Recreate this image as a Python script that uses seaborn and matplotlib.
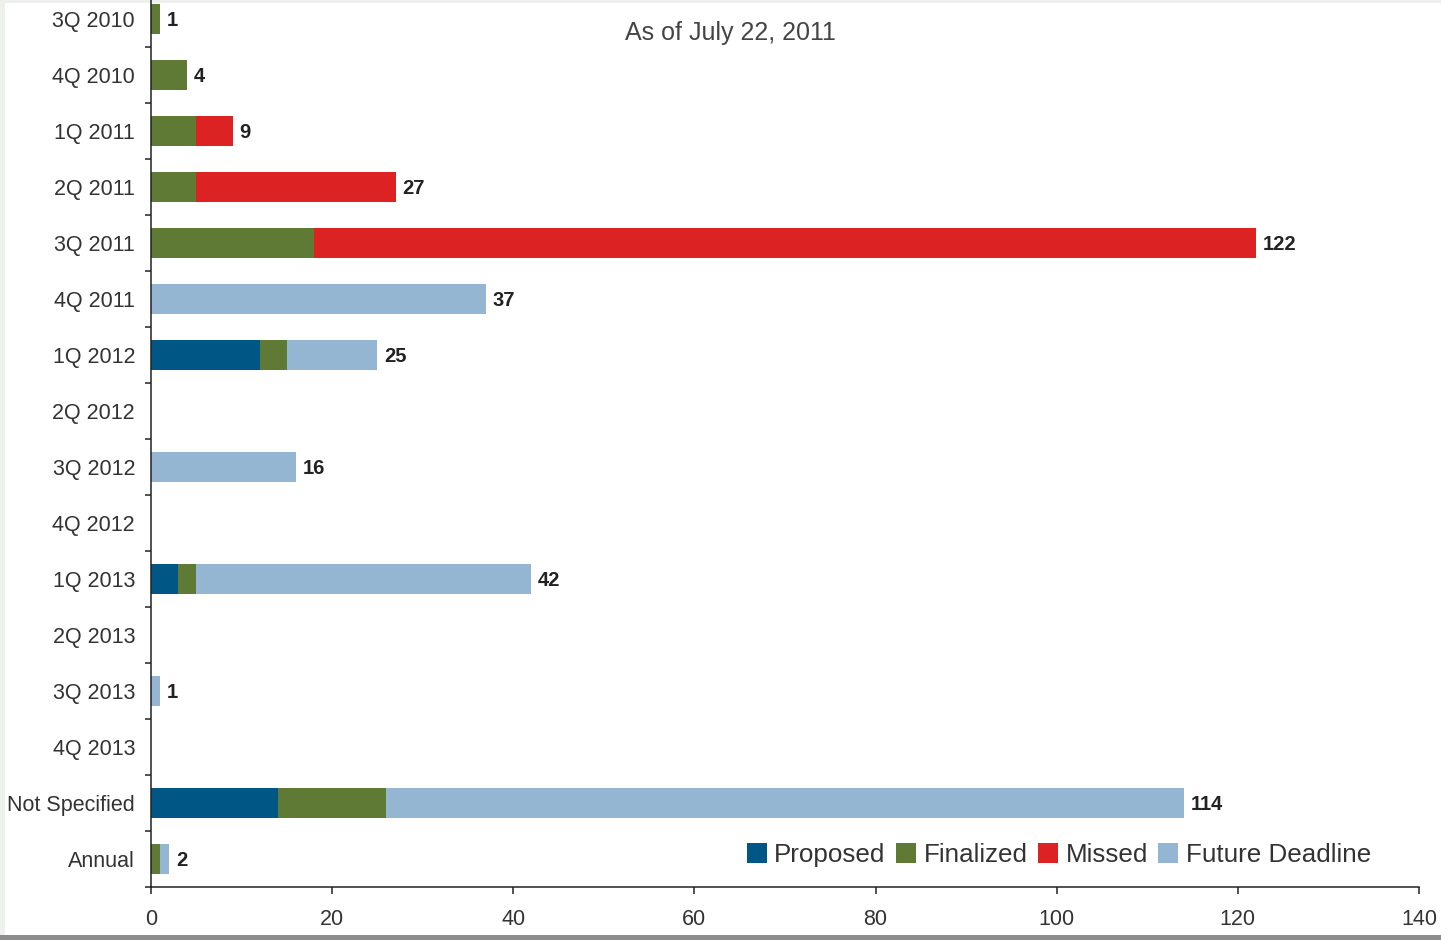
import matplotlib

matplotlib.use("Agg")
import matplotlib.pyplot as plt
import numpy as np
import pandas as pd
import seaborn as sns
from matplotlib.patches import Patch, Rectangle

quarters = [
    "3Q 2010", "4Q 2010", "1Q 2011", "2Q 2011", "3Q 2011", "4Q 2011",
    "1Q 2012", "2Q 2012", "3Q 2012", "4Q 2012", "1Q 2013", "2Q 2013",
    "3Q 2013", "4Q 2013", "Not Specified", "Annual",
]
proposed = [0, 0, 0, 0, 0, 0, 12, 0, 0, 0, 3, 0, 0, 0, 14, 0]
finalized = [1, 4, 5, 5, 18, 0, 3, 0, 0, 0, 2, 0, 0, 0, 12, 1]
missed = [0, 0, 4, 22, 104, 0, 0, 0, 0, 0, 0, 0, 0, 0, 0, 0]
future = [0, 0, 0, 0, 0, 37, 10, 0, 16, 0, 37, 0, 1, 0, 88, 1]

series_names = ["Proposed", "Finalized", "Missed", "Future Deadline"]
colors = ["#005684", "#5f7a34", "#dc2223", "#94b6d2"]
x_ticks = [0, 20, 40, 60, 80, 100, 120, 140]

df = pd.DataFrame({
    "quarter": quarters,
    "Proposed": proposed,
    "Finalized": finalized,
    "Missed": missed,
    "Future Deadline": future,
})
cum = df[series_names].cumsum(axis=1)
cum["quarter"] = quarters
totals = cum["Future Deadline"]

sns.set_style("white")
plt.rcParams["font.family"] = ["Liberation Sans", "DejaVu Sans"]

W, H = 1441, 940
fig = plt.figure(figsize=(W / 100, H / 100), dpi=100, facecolor="#eef0ee")

# page background with a soft shadow at the bottom
fig.patches.append(Rectangle((0, 0), 1, 5 / H, transform=fig.transFigure,
                             facecolor="#8c8c8c", edgecolor="none", zorder=-2))
fig.patches.append(Rectangle((5 / W, 5 / H), 1, 1 - 8 / H, transform=fig.transFigure,
                             facecolor="white", edgecolor="none", zorder=-1))

ax = fig.add_axes([151 / W, (H - 887) / H, 1268 / W, 887 / H])
ax.set_facecolor("none")

# stacked bars: draw cumulative ends from the widest down
for name, color in reversed(list(zip(series_names, colors))):
    sns.barplot(data=cum, x=name, y="quarter", order=quarters,
                color=color, width=0.53, orient="h", ax=ax, saturation=1,
                linewidth=0, errorbar=None)

for i, total in enumerate(totals):
    if total > 0:
        ax.text(total + 0.75, i + 0.03, f"{total}", va="center", ha="left",
                fontsize=14.5, fontweight="bold", color="#222222")

ax.set_xlabel("")
ax.set_ylabel("")

for side in ["top", "right"]:
    ax.spines[side].set_visible(False)
for side in ["left", "bottom"]:
    ax.spines[side].set_color("#222222")
    ax.spines[side].set_linewidth(1.1)

ax.set_xticks(x_ticks)
ax.set_yticks(np.arange(len(quarters)))
ax.set_yticklabels(quarters)
ax.set_yticks(np.arange(len(quarters) + 1) - 0.5, minor=True)
ax.tick_params(axis="y", which="major", left=True, length=0, pad=11.5,
               labelsize=15.5, labelcolor="#333333")
ax.tick_params(axis="y", which="minor", left=True, length=4.5, width=1.1,
               color="#222222", direction="out")
ax.tick_params(axis="x", which="major", bottom=True, length=5, width=1.1, color="#222222",
               direction="out", pad=10.5, labelsize=15.5, labelcolor="#333333")

# limits last: set_yticks would stretch the view to the -0.5 tick
ax.set_xlim(0, 140)
ax.set_ylim(15.5, 15.5 - 887 / 56)

fig.text(730 / W, 1 - 33 / H, "As of July 22, 2011", ha="center", va="center",
         fontsize=18, color="#444444")

handles = [Patch(facecolor=c, edgecolor="none", label=n) for n, c in zip(series_names, colors)]
leg = ax.legend(handles=handles, loc="center right", ncol=4, frameon=False,
                bbox_to_anchor=(1371 / W, 1 - 855 / H), bbox_transform=fig.transFigure,
                fontsize=18.7, handlelength=0.78, handleheight=0.78, handletextpad=0.28,
                columnspacing=0.4, borderpad=0, borderaxespad=0)
for t in leg.get_texts():
    t.set_color("#333333")

fig.savefig("out.png", dpi=100, facecolor=fig.get_facecolor())
